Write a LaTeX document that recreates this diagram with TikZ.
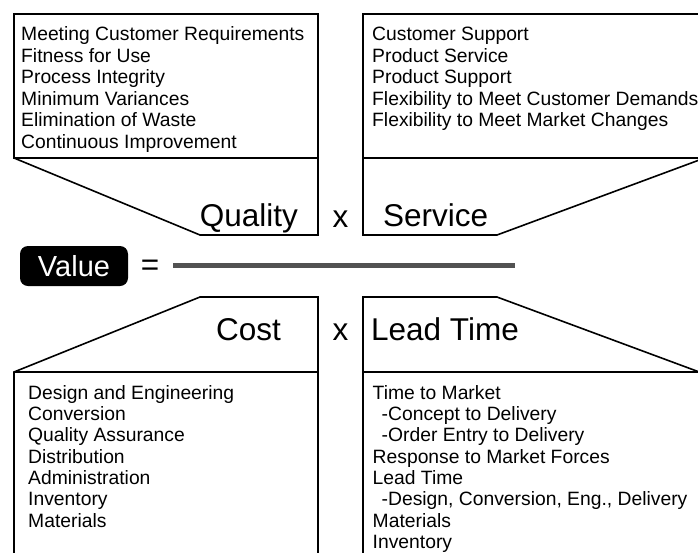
\documentclass[tikz,border=0pt]{standalone}
\usepackage{fontspec}
\setmainfont{Liberation Sans}
\begin{document}
\begin{tikzpicture}[x=1pt,y=-1pt,
  outline/.style={draw=black, line width=1.6pt, line join=miter},
  item/.style={anchor=base west, inner sep=0pt, font=\fontsize{19.3}{21.5}\selectfont},
  big/.style={inner sep=0pt, font=\fontsize{31.5}{36}\selectfont},
  valuebox/.style={fill=black, text=white, rounded corners=8pt, minimum width=108pt, minimum height=40pt, inner sep=0pt, font=\fontsize{29}{32}\selectfont},
  bar/.style={line width=5pt, color=black!68}]
\useasboundingbox (0,0) rectangle (698,552);
\clip (0,0) rectangle (698,552);
% top-left: Quality
\draw[outline] (14,14) rectangle (318,158);
\draw[outline] (14,158) -- (200,235) -- (318,235) -- (318,158);
% top-right: Service
\draw[outline] (363,14) rectangle (720,158);
\draw[outline] (363,158) -- (363,235) -- (497,235) -- (702,159);
% bottom-left: Cost
\draw[outline] (14,570) -- (14,372) -- (200,297) -- (318,297) -- (318,570);
\draw[outline] (14,372) -- (318,372);
% bottom-right: Lead Time
\draw[outline] (363,570) -- (363,297) -- (497,297) -- (702,373);
\draw[outline] (363,372) -- (720,372);
% headings
\node[big, anchor=base east] (quality) at (298,226) {Quality};
\node[big, anchor=base] (x1) at (340.5,227) {x};
\node[big, anchor=base west] (service) at (383,226) {Service};
\node[big, anchor=base east] (cost) at (281,340) {Cost};
\node[big, anchor=base] (x2) at (340.5,340) {x};
\node[big, anchor=base west] (leadtime) at (371,340) {Lead Time};
% value line
\node[valuebox] (value) at (74,266) {Value};
\node[big, anchor=base] (eq) at (150,275) {=};
\coordinate (g1) at (173,265);
\coordinate (g2) at (515,265);
\draw[bar] (g1) -- (g2);
% lists
\foreach \t [count=\i from 0] in {Meeting Customer Requirements, Fitness for Use, Process Integrity, Minimum Variances, Elimination of Waste, Continuous Improvement}
  \node[item] (q\i) at (21,40.8+21.5*\i) {\t};
\foreach \t [count=\i from 0] in {Customer Support, Product Service, Product Support, Flexibility to Meet Customer Demands, Flexibility to Meet Market Changes}
  \node[item] (s\i) at (372,40.8+21.5*\i) {\t};
\foreach \t [count=\i from 0] in {Design and Engineering, Conversion, Quality Assurance, Distribution, Administration, Inventory, Materials}
  \node[item] (c\i) at (28,399.3+21.33*\i) {\t};
\foreach \t/\dx [count=\i from 0] in {Time to Market/0, -Concept to Delivery/9, -Order Entry to Delivery/9, Response to Market Forces/0, Lead Time/0, {-Design, Conversion, Eng., Delivery}/9, Materials/0, Inventory/0}
  \node[item] (l\i) at (372.5+\dx,399.3+21.33*\i) {\t};
\end{tikzpicture}
\end{document}
